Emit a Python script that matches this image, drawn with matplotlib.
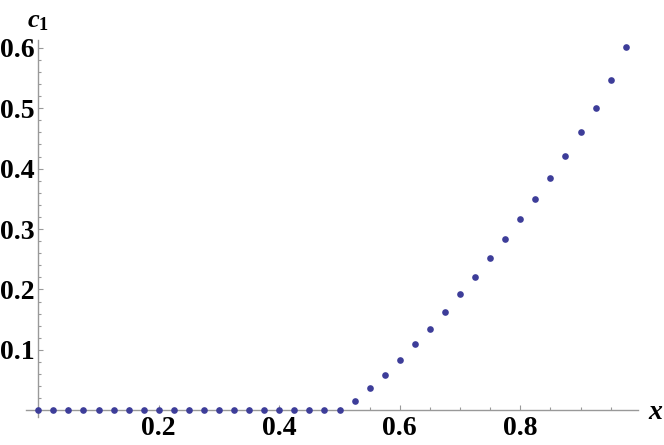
import matplotlib
matplotlib.use("Agg")
import matplotlib.pyplot as plt

POINT_COLOR = "#3d3d99"
AXIS_COLOR = "#999999"

# sample grid and c_1 values
x_vals = [0.000, 0.025, 0.050, 0.075, 0.100, 0.125, 0.150, 0.175, 0.200, 0.225,
          0.250, 0.275, 0.300, 0.325, 0.350, 0.375, 0.400, 0.425, 0.450, 0.475,
          0.500, 0.525, 0.550, 0.575, 0.600, 0.625, 0.650, 0.675, 0.700, 0.725,
          0.750, 0.775, 0.800, 0.825, 0.850, 0.875, 0.900, 0.925, 0.950, 0.975]
c1_vals = [0.0, 0.0, 0.0, 0.0, 0.0, 0.0, 0.0, 0.0, 0.0, 0.0,
           0.0, 0.0, 0.0, 0.0, 0.0, 0.0, 0.0, 0.0, 0.0, 0.0,
           0.0, 0.016, 0.037, 0.059, 0.083, 0.109, 0.135, 0.163, 0.193, 0.221,
           0.252, 0.284, 0.316, 0.350, 0.384, 0.421, 0.460, 0.501, 0.547, 0.601]

x_ticks = [0.2, 0.4, 0.6, 0.8]
x_minor = [0.05, 0.1, 0.15, 0.25, 0.3, 0.35, 0.45, 0.5, 0.55,
           0.65, 0.7, 0.75, 0.85, 0.9, 0.95]
y_ticks = [0.1, 0.2, 0.3, 0.4, 0.5, 0.6]
y_minor = [0.02, 0.04, 0.06, 0.08, 0.12, 0.14, 0.16, 0.18, 0.22, 0.24, 0.26, 0.28,
           0.32, 0.34, 0.36, 0.38, 0.42, 0.44, 0.46, 0.48, 0.52, 0.54, 0.56, 0.58]


def main():
    plt.rcParams["font.family"] = "Liberation Serif"
    plt.rcParams["font.weight"] = "bold"
    plt.rcParams["mathtext.fontset"] = "custom"
    plt.rcParams["mathtext.it"] = "Liberation Serif:italic:bold"
    plt.rcParams["mathtext.rm"] = "Liberation Serif:bold"

    fig = plt.figure(figsize=(6.64, 4.45), dpi=100)
    ax = fig.add_axes([0.0399, 0.0618, 0.9202, 0.8483])

    ax.plot(x_vals, c1_vals, "o", ms=4.8, color=POINT_COLOR, mec="none", zorder=3,
            clip_on=False)

    ax.set_xlim(-0.0195, 0.9945)
    ax.set_ylim(-0.012, 0.613)

    for side in ("top", "right"):
        ax.spines[side].set_visible(False)
    for side in ("left", "bottom"):
        ax.spines[side].set_position(("data", 0))
        ax.spines[side].set_color(AXIS_COLOR)
        ax.spines[side].set_linewidth(1.0)

    ax.set_xticks(x_ticks, [f"{t:.1f}" for t in x_ticks])
    ax.set_xticks(x_minor, minor=True)
    ax.set_yticks(y_ticks, [f"{t:.1f}" for t in y_ticks])
    ax.set_yticks(y_minor, minor=True)

    ax.tick_params(which="both", direction="in", color=AXIS_COLOR, width=0.8)
    ax.tick_params(which="major", length=3.5, labelsize=20)
    ax.tick_params(which="minor", length=2.0)
    ax.tick_params(axis="x", which="major", pad=4)
    ax.tick_params(axis="y", which="major", pad=2.5)

    ax.annotate("$x$", xy=(1, 0), xycoords=("axes fraction", "data"),
                xytext=(7.5, -1.5), textcoords="offset points",
                ha="left", va="center", fontsize=20)
    ax.annotate("$c_1$", xy=(0, 1), xycoords=("data", "axes fraction"),
                xytext=(0, 5), textcoords="offset points",
                ha="center", va="bottom", fontsize=19)

    fig.savefig("out.png", dpi=100)


if __name__ == "__main__":
    main()
